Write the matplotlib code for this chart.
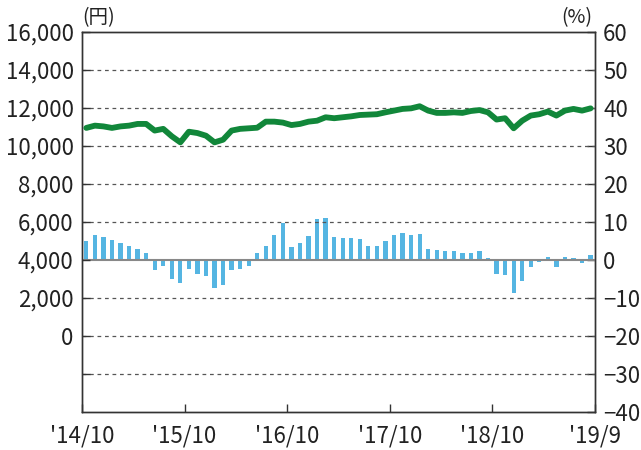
import numpy as np
import matplotlib.pyplot as plt

plt.rcParams['font.family'] = ['Noto Sans CJK JP', 'DejaVu Sans']

# monthly data, '14/10 .. '19/9
price = [10950, 11070, 11030, 10950, 11030, 11070, 11160, 11160, 10810, 10900,
         10510, 10190, 10750, 10680, 10540, 10190, 10330, 10810, 10900, 10930,
         10960, 11280, 11280, 11230, 11100, 11160, 11280, 11330, 11510, 11460,
         11510, 11560, 11630, 11650, 11670, 11770, 11860, 11950, 11980, 12090,
         11860, 11740, 11740, 11770, 11740, 11840, 11890, 11770, 11390, 11460,
         10930, 11330, 11600, 11670, 11810, 11600, 11860, 11950, 11860, 11980]
change = [5.0, 6.6, 6.05, 5.26, 4.56, 3.68, 2.89, 1.84, -2.54, -1.49,
          -4.9, -5.96, -2.28, -3.6, -4.12, -7.28, -6.5, -2.54, -2.28, -1.49,
          1.84, 3.68, 6.58, 9.74, 3.42, 4.56, 6.3, 10.8, 11.05, 6.05,
          5.8, 5.8, 5.5, 3.68, 3.68, 5.0, 6.58, 7.1, 6.58, 6.84,
          2.89, 2.63, 2.37, 2.37, 1.84, 1.84, 2.37, 0.53, -3.68, -3.95,
          -8.68, -5.53, -1.84, -0.53, 0.79, -1.84, 0.79, 0.53, -0.79, 1.32]
xtick_labels = ["'14/10", "'15/10", "'16/10", "'17/10", "'18/10", "'19/9"]

LINE_COLOR = '#11873A'
BAR_COLOR = '#55B5E2'

x = np.arange(len(price)) + 0.5

fig = plt.figure(figsize=(6.41, 4.5), dpi=100)
ax = fig.add_axes([0.128, 0.0844, 0.8, 0.8446])
ax2 = ax.twinx()

# grid on left axis
for v in [-2000, 0, 2000, 6000, 8000, 10000, 12000, 14000]:
    ax.axhline(v, color='#555555', linestyle=(0, (3, 3)), linewidth=0.9, zorder=1)
ax.axhline(4000, color='#888888', linewidth=1.5, zorder=1)

ax2.bar(x, change, width=0.5, color=BAR_COLOR, zorder=2)
ax.plot(x, price, color=LINE_COLOR, linewidth=4.2, solid_joinstyle='round',
        solid_capstyle='round', zorder=3)
ax.set_zorder(ax2.get_zorder() + 1)
ax.patch.set_visible(False)

ax.set_xlim(0, 60)
ax.set_ylim(-4000, 16000)
ax2.set_ylim(-40, 60)

ax.set_yticks(np.arange(-2000, 16001, 2000))
ax.set_yticklabels(['' if v < 0 else f'{v:,}' for v in range(-2000, 16001, 2000)])
ax2.set_yticks(np.arange(-40, 61, 10))
ax.set_xticks([0, 12, 24, 36, 48, 60])
ax.set_xticklabels(xtick_labels)

for a in (ax, ax2):
    a.tick_params(direction='in', length=6, width=1, color='#333333',
                  labelsize=16, labelcolor='#222222', pad=6)
    for s in a.spines.values():
        s.set_color('#333333')
        s.set_linewidth(1)
ax.tick_params(axis='x', pad=9)

ax.text(0.0, 1.01, '(円)', transform=ax.transAxes, ha='left', va='bottom',
        fontsize=14, color='#222222')
ax.text(0.995, 1.01, '(%)', transform=ax.transAxes, ha='right', va='bottom',
        fontsize=14, color='#222222')

fig.savefig('out.png', dpi=100)
